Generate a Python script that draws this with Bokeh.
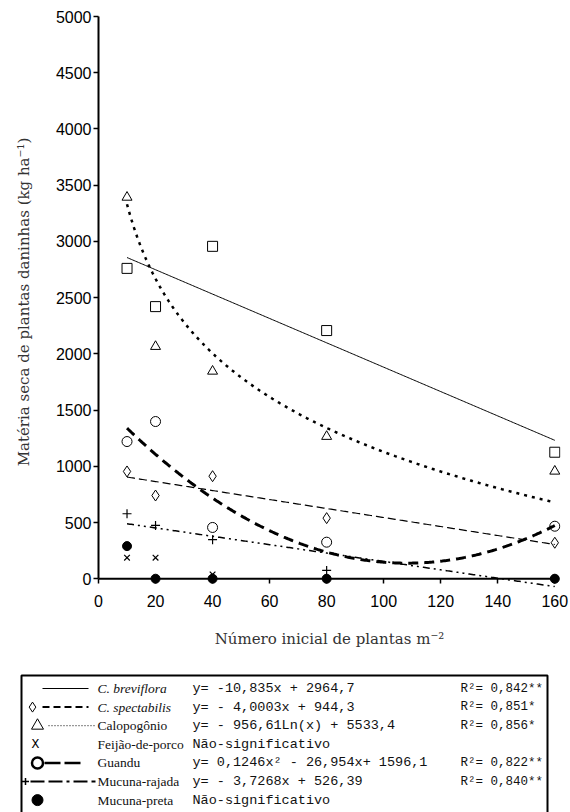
import numpy as np
from bokeh.plotting import figure
from bokeh.models import Range1d, LinearAxis, FixedTicker
from bokeh.layouts import column
from bokeh.embed import file_html
from bokeh.resources import INLINE
from bokeh.core.properties import value

# ---------------- data ----------------
densities = [10, 20, 40, 80, 160]
breviflora = [2760, 2420, 2956, 2207, 1125]
spectabilis = [954, 740, 912, 539, 320]
calopogonio = [3392, 2065, 1845, 1265, 956]
feijao = [187, 187, 38, 0, 0]
guandu = [1220, 1398, 456, 325, 467]
mucuna_rajada = [578, 474, 347, 74, 0]
mucuna_preta = [290, 0, 0, 0, 0]

# regression equations printed in the legend
brev_coef = [-10.835, 2964.7]           # linear
spec_coef = [-4.0003, 944.3]            # linear
calo_coef = [-956.61, 5533.4]           # logarithmic
guan_coef = [0.1246, -26.954, 1596.1]   # quadratic
raja_coef = [-3.7268, 526.39]           # linear

x_ticks = [0, 20, 40, 60, 80, 100, 120, 140, 160]
y_ticks = [0, 500, 1000, 1500, 2000, 2500, 3000, 3500, 4000, 4500, 5000]

legend_names = ["C. breviflora", "C. spectabilis", "Calopogônio", "Feijão-de-porco",
                "Guandu", "Mucuna-rajada", "Mucuna-preta"]
legend_eqs = ["y= -10,835x + 2964,7", "y= - 4,0003x + 944,3", "y= - 956,61Ln(x) + 5533,4",
              "Não-significativo", "y= 0,1246x² - 26,954x+ 1596,1", "y= - 3,7268x + 526,39",
              "Não-significativo"]
legend_r2 = ["R²= 0,842**", "R²= 0,851*", "R²= 0,856*", "", "R²= 0,822**", "R²= 0,840**", ""]

# fitted curves evaluated over the tested range
xc = np.linspace(min(densities), max(densities), 301)
y_brev = brev_coef[0] * xc + brev_coef[1]
y_spec = spec_coef[0] * xc + spec_coef[1]
y_calo = calo_coef[0] * np.log(xc) + calo_coef[1]
y_guan = guan_coef[0] * xc ** 2 + guan_coef[1] * xc + guan_coef[2]
y_raja = raja_coef[0] * xc + raja_coef[1]

# ---------------- main plot ----------------
H1 = 660
p = figure(width=570, height=H1, x_range=Range1d(0, 162), y_range=Range1d(-78, 5000),
           output_backend="svg", toolbar_location=None,
           x_axis_location=None, y_axis_location=None,
           min_border_left=98, min_border_right=10, min_border_top=16, min_border_bottom=73)
p.outline_line_color = None
p.xgrid.visible = False
p.ygrid.visible = False
p.background_fill_color = "white"

xaxis = LinearAxis(ticker=FixedTicker(ticks=x_ticks), axis_label="Número inicial de plantas m⁻²")
yaxis = LinearAxis(ticker=FixedTicker(ticks=y_ticks), bounds=(0, 5000),
                   axis_label="Matéria seca de plantas daninhas (kg ha⁻¹)")
for ax in (xaxis, yaxis):
    ax.axis_line_width = 2
    ax.axis_line_color = "black"
    ax.major_tick_line_width = 1.5
    ax.major_tick_line_color = "black"
    ax.major_tick_out = 5
    ax.major_tick_in = 0
    ax.minor_tick_line_color = None
    ax.major_label_text_font = "Liberation Sans"
    ax.major_label_text_font_size = "16px"
    ax.major_label_text_color = "black"
    ax.axis_label_text_font = "DejaVu Serif"
    ax.axis_label_text_font_style = "normal"
    ax.axis_label_text_font_size = "15px"
    ax.axis_label_text_color = "#333333"
# x axis sits at the frame bottom; its ticks are pulled up so they hang from y = 0
xaxis.axis_line_color = None
xaxis.major_tick_in = 9
xaxis.major_tick_out = -4
xaxis.major_label_standoff = 7
xaxis.axis_label_standoff = 20
yaxis.major_label_standoff = 2
yaxis.axis_label_standoff = 20
p.add_layout(xaxis, "below")
p.add_layout(yaxis, "left")

# x axis line at y = 0
p.line([x_ticks[0], x_ticks[-1]], [0, 0], line_color="black", line_width=2)

# fitted lines
p.line(xc, y_brev, line_color="black", line_width=1)
p.line(xc, y_spec, line_color="black", line_width=1.2, line_dash="8 4")
p.line(xc, y_calo, line_color="black", line_width=2.5, line_dash="3 5")
p.line(xc, y_guan, line_color="black", line_width=3, line_dash="10 6")
p.line(xc, y_raja, line_color="black", line_width=1.5, line_dash="7 4 2 4 2 4")

# observed means
p.scatter(densities, breviflora, marker="square", size=10, fill_color=None, line_color="black", line_width=1)
p.scatter(densities, spectabilis, marker="diamond", size=11, fill_color=None, line_color="black", line_width=1)
p.scatter(densities, calopogonio, marker="triangle", size=10, fill_color=None, line_color="black", line_width=1)
p.scatter(densities, feijao, marker="x", size=8, line_color="black", line_width=1.2)
p.scatter(densities, guandu, marker="circle", size=10, fill_color=None, line_color="black", line_width=1)
p.scatter(densities, mucuna_rajada, marker="cross", size=9, line_color="black", line_width=1.2)
p.scatter(densities, mucuna_preta, marker="circle", size=9, fill_color="black", line_color="black")

# ---------------- legend table ----------------
H2 = 812 - H1
q = figure(width=570, height=H2, x_range=Range1d(0, 570), y_range=Range1d(H2, 0),
           output_backend="svg", toolbar_location=None,
           x_axis_location=None, y_axis_location=None,
           min_border=0, min_border_left=0, min_border_right=0, min_border_top=0, min_border_bottom=0)
q.outline_line_color = None
q.xgrid.visible = False
q.ygrid.visible = False
for fig in (p, q):
    try:
        fig.frame_align = False
    except Exception:
        pass

q.line([21, 21, 547, 547], [H2 + 10, 15, 15, H2 + 10], line_color="black", line_width=2)

rows = [28.0 + 18.6 * i for i in range(7)]
# line samples
q.line([42, 88], [rows[0]] * 2, line_color="black", line_width=1.2)
q.line([42, 88], [rows[1]] * 2, line_color="black", line_width=2, line_dash="7 4")
q.line([48, 95], [rows[2]] * 2, line_color="black", line_width=1, line_dash="1 2")
q.line([44, 82], [rows[4]] * 2, line_color="black", line_width=2.5, line_dash="16 4")
q.line([30, 95], [rows[5]] * 2, line_color="black", line_width=2, line_dash="14 4 14 4 3 4")
# markers
q.scatter([32], [rows[1]], marker="diamond", size=10, fill_color=None, line_color="black")
q.scatter([37], [rows[2]], marker="triangle", size=12, fill_color=None, line_color="black")
q.text([35], [rows[3]], text=["X"], text_font=value("Liberation Mono"), text_font_size="13px",
       text_align="center", text_baseline="middle")
q.scatter([37], [rows[4]], marker="circle", size=11, fill_color=None, line_color="black", line_width=2.5)
q.scatter([25], [rows[5]], marker="cross", size=7, line_color="black", line_width=1.5)
q.scatter([37], [rows[6]], marker="circle", size=11, fill_color="black", line_color="black")

for i in range(7):
    style = "italic" if i < 2 else "normal"
    q.text([97], [rows[i]], text=[legend_names[i]], text_font=value("Liberation Serif"),
           text_font_size="13.5px", text_font_style=style, text_baseline="middle", text_color="#111111")
    q.text([192], [rows[i]], text=[legend_eqs[i]], text_font=value("Liberation Mono"),
           text_font_size="13.5px", text_baseline="middle", text_color="#111111")
    if legend_r2[i]:
        q.text([460], [rows[i]], text=[legend_r2[i]], text_font=value("Liberation Mono"),
               text_font_size="12.5px", text_baseline="middle", text_color="#111111")

layout = column(p, q, spacing=0)
open("out.html", "w").write(file_html(layout, INLINE))
